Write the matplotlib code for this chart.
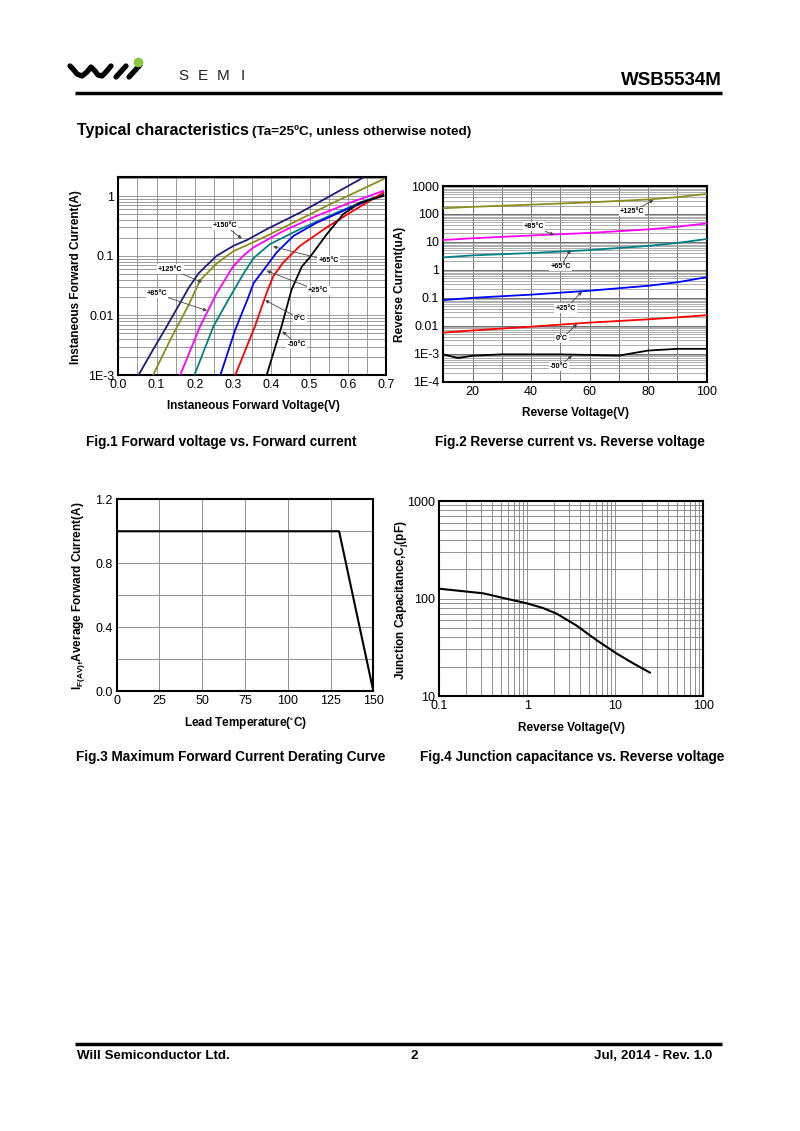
import matplotlib
matplotlib.use('Agg')
import matplotlib.pyplot as plt
from matplotlib.ticker import FixedLocator, NullFormatter, LogLocator, FixedFormatter
import numpy as np

# ---------------- data ----------------
# Fig.1 forward characteristics (V, A)
v150 = [0.053, 0.09, 0.127, 0.16, 0.184, 0.21, 0.257, 0.301, 0.337, 0.388, 0.475, 0.562, 0.64]
i150 = [1e-3, 0.0026, 0.0066, 0.0155, 0.029, 0.051, 0.1, 0.147, 0.185, 0.28, 0.53, 1.08, 2.05]
v125 = [0.091, 0.136, 0.184, 0.214, 0.258, 0.301, 0.345, 0.388, 0.475, 0.562, 0.693]
i125 = [1e-3, 0.0039, 0.015, 0.039, 0.075, 0.12, 0.16, 0.216, 0.41, 0.78, 1.93]
v85 = [0.162, 0.214, 0.258, 0.30, 0.33, 0.353, 0.431, 0.519, 0.606, 0.693]
i85 = [1e-3, 0.0066, 0.024, 0.066, 0.105, 0.138, 0.26, 0.47, 0.78, 1.23]
v65 = [0.199, 0.249, 0.293, 0.328, 0.354, 0.397, 0.475, 0.562, 0.632, 0.693]
i65 = [1e-3, 0.0066, 0.021, 0.051, 0.092, 0.158, 0.28, 0.50, 0.78, 1.08]
v25 = [0.267, 0.306, 0.337, 0.354, 0.388, 0.414, 0.458, 0.519, 0.606, 0.693]
i25 = [1e-3, 0.0058, 0.018, 0.035, 0.068, 0.114, 0.216, 0.36, 0.64, 1.05]
v0 = [0.306, 0.357, 0.388, 0.405, 0.431, 0.475, 0.545, 0.606, 0.693]
i0 = [1e-3, 0.0065, 0.024, 0.045, 0.077, 0.147, 0.30, 0.53, 1.15]
vm50 = [0.388, 0.427, 0.453, 0.48, 0.501, 0.545, 0.588, 0.632, 0.693]
im50 = [1e-3, 0.0066, 0.027, 0.066, 0.095, 0.23, 0.50, 0.78, 1.01]
fwd_labels = ['+150°C', '+125°C', '+85°C', '+65°C', '+25°C', '0°C', '-50°C']

# Fig.2 reverse characteristics (V, uA)
vr = [10, 20, 40, 60, 80, 90, 100]
ir125 = [160, 180, 215, 260, 330, 400, 520]
ir85 = [11.7, 13.5, 17, 21, 28, 35, 46]
ir65 = [2.8, 3.3, 4.0, 5.1, 7.2, 9.2, 12.7]
ir25 = [0.083, 0.10, 0.13, 0.18, 0.27, 0.36, 0.55]
ir0 = [0.0057, 0.0068, 0.0093, 0.013, 0.017, 0.020, 0.024]
vr_m50 = [10, 15, 20, 30, 50, 70, 80, 90, 100]
ir_m50 = [0.00095, 0.0007, 0.00085, 0.00095, 0.00095, 0.00086, 0.0013, 0.0015, 0.0015]
rev_labels = ['+125°C', '+85°C', '+65°C', '+25°C', '0°C', '-50°C']

# Fig.3 derating
temp = [0, 130, 150]
iavg = [1.0, 1.0, 0.0]

# Fig.4 junction capacitance
vc = [0.1, 0.316, 0.49, 1.0, 1.5, 2.15, 3.6, 6.1, 10.2, 16.0, 24.7]
cj = [126, 113, 103, 89, 80, 70, 53, 37.5, 27.5, 21.6, 17.4]

# tick labels
f1_xticks = [0.0, 0.1, 0.2, 0.3, 0.4, 0.5, 0.6, 0.7]
f1_yticks = [1e-3, 1e-2, 1e-1, 1]
f1_ylabels = ['1E-3', '0.01', '0.1', '1']
f2_xticks = [20, 40, 60, 80, 100]
f2_yticks = [1e-4, 1e-3, 1e-2, 1e-1, 1, 10, 100, 1000]
f2_ylabels = ['1E-4', '1E-3', '0.01', '0.1', '1', '10', '100', '1000']
f3_xticks = [0, 25, 50, 75, 100, 125, 150]
f3_yticks = [0.0, 0.4, 0.8, 1.2]
f4_xticks = [0.1, 1, 10, 100]
f4_xlabels = ['0.1', '1', '10', '100']
f4_yticks = [10, 100, 1000]
f4_ylabels = ['10', '100', '1000']

# ---------------- styling ----------------
W, H = 800, 1131
SANS = ['Liberation Sans', 'DejaVu Sans']
plt.rcParams['font.family'] = SANS

fig = plt.figure(figsize=(8, 11.31), dpi=100)

bg = fig.add_axes([0, 0, 1, 1], zorder=-5)
bg.set_xlim(0, W)
bg.set_ylim(H, 0)
bg.axis('off')


def rect(l, t, r, b):
    return [l / W, 1 - b / H, (r - l) / W, (b - t) / H]


def style(ax):
    for s in ax.spines.values():
        s.set_linewidth(1.5)
        s.set_color('black')
    ax.tick_params(which='both', length=0, labelsize=9, pad=3)


# ---------- header ----------
wx = [70, 73, 77, 82, 87, 91, 95, 98, 102, 106, 111]
wy = [66, 69, 74, 76, 72, 67, 71, 75, 76, 72, 66]
bg.plot(wx, wy, color='black', lw=3.8, solid_capstyle='round', solid_joinstyle='round')
bg.plot([116, 126], [77, 66], color='black', lw=3.8, solid_capstyle='round')
bg.plot([129, 140], [77, 65], color='black', lw=3.8, solid_capstyle='round')
bg.plot([137.5], [62], 'o', color='#8cc63f', ms=7, mec='none')
for ch, cx in zip(['S', 'E', 'M', 'I'], [183, 203, 223, 243]):
    bg.text(cx, 80, ch, fontsize=11, ha='center', va='baseline', color='#222222')
bg.text(722, 85, 'WSB5534M', fontsize=13.5, fontweight='bold', ha='right', va='baseline')
bg.plot([75, 722], [92.5, 92.5], color='black', lw=2.5, solid_capstyle='butt')

bg.text(77, 135, 'Typical characteristics ', fontsize=11.5, fontweight='bold', ha='left', va='baseline')
bg.text(252, 135, '(Ta=25ºC, unless otherwise noted)', fontsize=9.7, fontweight='bold',
        ha='left', va='baseline')

# ---------- footer ----------
bg.plot([75, 722], [1043.5, 1043.5], color='black', lw=2.5, solid_capstyle='butt')
bg.text(77, 1059, 'Will Semiconductor Ltd.', fontsize=9.6, fontweight='bold', ha='left', va='baseline')
bg.text(414, 1059, '2', fontsize=9.6, fontweight='bold', ha='center', va='baseline')
bg.text(712, 1059, 'Jul, 2014 - Rev. 1.0', fontsize=9.6, fontweight='bold', ha='right', va='baseline')

# ---------- captions ----------
cap_kw = dict(fontsize=9.8, fontweight='bold', ha='center', va='baseline')
bg.text(221, 446, 'Fig.1 Forward voltage vs. Forward current', **cap_kw)
bg.text(570, 446, 'Fig.2 Reverse current vs. Reverse voltage', **cap_kw)
bg.text(231, 761, 'Fig.3 Maximum Forward Current Derating Curve', **cap_kw)
bg.text(572, 761, 'Fig.4 Junction capacitance vs. Reverse voltage', **cap_kw)

lab_kw = dict(fontsize=8.5, fontweight='bold')


def annot(ax, txt, xy, xyt):
    ax.annotate(txt, xy=xy, xytext=xyt, textcoords='data', ha='center', va='center',
                fontsize=5.2, fontweight='bold', zorder=6,
                bbox=dict(boxstyle='square,pad=0.15', fc='white', ec='none'),
                arrowprops=dict(arrowstyle='-|>', color='#444444', lw=0.6, mutation_scale=5,
                                shrinkA=0, shrinkB=0))


# ---------- Fig.1 ----------
ax1 = fig.add_axes(rect(118.3, 177.3, 386, 375))
ax1.set_yscale('log')
ax1.set_xlim(0, 0.7)
ax1.set_ylim(1e-3, 2.08)
ax1.xaxis.set_major_locator(FixedLocator(f1_xticks))
ax1.xaxis.set_minor_locator(FixedLocator([0.05, 0.15, 0.25, 0.35, 0.45, 0.55, 0.65]))
ax1.set_xticklabels([f'{t:.1f}' for t in f1_xticks])
ax1.yaxis.set_major_locator(FixedLocator(f1_yticks))
ax1.yaxis.set_major_formatter(FixedFormatter(f1_ylabels))
ax1.yaxis.set_minor_locator(LogLocator(base=10, subs=np.arange(2, 10)))
ax1.yaxis.set_minor_formatter(NullFormatter())
ax1.grid(True, which='both', color='#8a8a8a', lw=0.6)
style(ax1)
cols1 = ['#1c1c78', '#8c8c1c', '#ff00ff', '#008080', '#0000ff', '#ff0000', '#000000']
for vv, ii, c in zip([v150, v125, v85, v65, v25, v0, vm50],
                     [i150, i125, i85, i65, i25, i0, im50], cols1):
    ax1.plot(vv, ii, color=c, lw=1.3, zorder=4)
annot(ax1, fwd_labels[0], (0.323, 0.195), (0.279, 0.32))
annot(ax1, fwd_labels[1], (0.219, 0.036), (0.136, 0.06))
annot(ax1, fwd_labels[2], (0.232, 0.012), (0.101, 0.023))
annot(ax1, fwd_labels[3], (0.405, 0.143), (0.55, 0.083))
annot(ax1, fwd_labels[4], (0.388, 0.056), (0.523, 0.026))
annot(ax1, fwd_labels[5], (0.384, 0.018), (0.475, 0.0088))
annot(ax1, fwd_labels[6], (0.429, 0.0054), (0.466, 0.0033))
bg.text(253, 409, 'Instaneous Forward Voltage(V)', ha='center', va='baseline', **lab_kw)
bg.text(76, 277, 'Instaneous Forward Current(A)', ha='center', va='center', rotation=90, **lab_kw)

# ---------- Fig.2 ----------
ax2 = fig.add_axes(rect(443.3, 186, 706.7, 381.7))
ax2.set_yscale('log')
ax2.set_xlim(10, 100)
ax2.set_ylim(1e-4, 1000)
ax2.xaxis.set_major_locator(FixedLocator(f2_xticks))
ax2.xaxis.set_minor_locator(FixedLocator([30, 50, 70, 90]))
ax2.yaxis.set_major_locator(FixedLocator(f2_yticks))
ax2.yaxis.set_major_formatter(FixedFormatter(f2_ylabels))
ax2.yaxis.set_minor_locator(LogLocator(base=10, subs=np.arange(2, 10), numticks=20))
ax2.yaxis.set_minor_formatter(NullFormatter())
ax2.grid(True, which='major', color='#707070', lw=0.7)
ax2.grid(True, which='minor', axis='y', color='#a0a0a0', lw=0.6)
ax2.grid(True, which='minor', axis='x', color='#707070', lw=0.7)
style(ax2)
cols2 = ['#8c8c1c', '#ff00ff', '#008080', '#0000ff', '#ff0000']
for ii, c in zip([ir125, ir85, ir65, ir25, ir0], cols2):
    ax2.plot(vr, ii, color=c, lw=1.3, zorder=4)
ax2.plot(vr_m50, ir_m50, color='black', lw=1.3, zorder=4)
annot(ax2, rev_labels[0], (81.8, 316), (74.5, 120))
annot(ax2, rev_labels[1], (47.8, 17.8), (41, 35))
annot(ax2, rev_labels[2], (53.5, 5.2), (50, 1.3))
annot(ax2, rev_labels[3], (57.4, 0.166), (51.8, 0.043))
annot(ax2, rev_labels[4], (55.7, 0.0117), (50.6, 0.0035))
annot(ax2, rev_labels[5], (54, 0.00085), (49.5, 0.00035))
bg.text(575, 416, 'Reverse Voltage(V)', ha='center', va='baseline', **lab_kw)
bg.text(400, 284, 'Reverse Current(uA)', ha='center', va='center', rotation=90, **lab_kw)

# ---------- Fig.3 ----------
ax3 = fig.add_axes(rect(116.7, 499.3, 373.3, 691))
ax3.set_xlim(0, 150)
ax3.set_ylim(0, 1.2)
ax3.xaxis.set_major_locator(FixedLocator(f3_xticks))
ax3.yaxis.set_major_locator(FixedLocator(f3_yticks))
ax3.yaxis.set_minor_locator(FixedLocator([0.2, 0.6, 1.0]))
ax3.set_yticklabels([f'{t:.1f}' for t in f3_yticks])
ax3.grid(True, which='both', color='#909090', lw=0.7)
style(ax3)
ax3.plot(temp, iavg, color='black', lw=1.5, zorder=4)
bg.text(245, 726, 'Lead Temperature($\\mathregular{^{\\circ}}$C)', ha='center', va='baseline', **lab_kw)
bg.text(79, 596, 'I$\\mathregular{_{F(AV)}}$,Average Forward Current(A)', ha='center', va='center',
        rotation=90, **lab_kw)

# ---------- Fig.4 ----------
ax4 = fig.add_axes(rect(439.3, 501, 703.3, 696))
ax4.set_xscale('log')
ax4.set_yscale('log')
ax4.set_xlim(0.1, 100)
ax4.set_ylim(10, 1000)
ax4.xaxis.set_major_locator(FixedLocator(f4_xticks))
ax4.xaxis.set_major_formatter(FixedFormatter(f4_xlabels))
ax4.yaxis.set_major_locator(FixedLocator(f4_yticks))
ax4.yaxis.set_major_formatter(FixedFormatter(f4_ylabels))
for a in (ax4.xaxis, ax4.yaxis):
    a.set_minor_locator(LogLocator(base=10, subs=np.arange(2, 10), numticks=20))
    a.set_minor_formatter(NullFormatter())
ax4.grid(True, which='both', color='#808080', lw=0.6)
style(ax4)
ax4.plot(vc, cj, color='black', lw=1.5, zorder=4)
bg.text(571, 731, 'Reverse Voltage(V)', ha='center', va='baseline', **lab_kw)
bg.text(401, 600, 'Junction Capacitance,C$\\mathregular{_j}$(pF)', ha='center', va='center', rotation=90, **lab_kw)

fig.savefig('out.png', dpi=100)
